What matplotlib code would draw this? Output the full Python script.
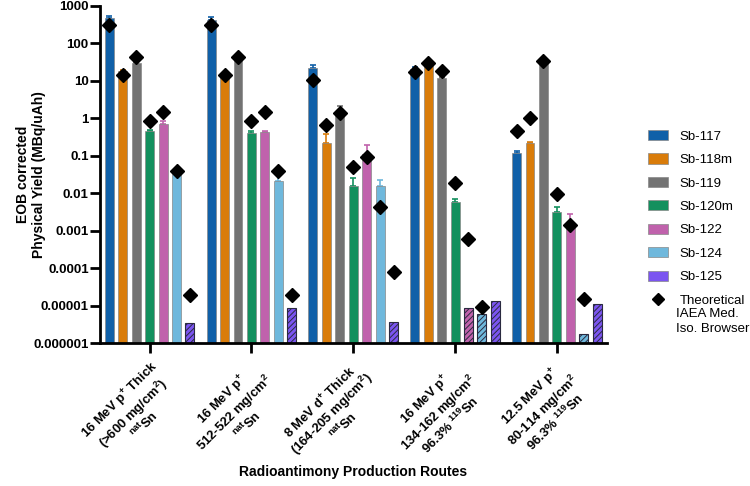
import numpy as np
import matplotlib
matplotlib.use('Agg')
import matplotlib.pyplot as plt
from matplotlib.patches import Patch
from matplotlib.lines import Line2D

plt.rcParams['font.family'] = 'Liberation Sans'
plt.rcParams['font.weight'] = 'bold'
plt.rcParams['mathtext.fontset'] = 'custom'
plt.rcParams['mathtext.rm'] = 'Liberation Sans:bold'
plt.rcParams['mathtext.bf'] = 'Liberation Sans:bold'
plt.rcParams['mathtext.default'] = 'bf'
plt.rcParams['hatch.linewidth'] = 0.7

nan = np.nan

routes = [
    "16 MeV p$^{+}$ Thick\n(>600 mg/cm$^{2}$)\n$^{nat}$Sn",
    "16 MeV p$^{+}$\n512-522 mg/cm$^{2}$\n$^{nat}$Sn",
    "8 MeV d$^{+}$ Thick\n(164-205 mg/cm$^{2}$)\n$^{nat}$Sn",
    "16 MeV p$^{+}$\n134-162 mg/cm$^{2}$\n96.3% $^{119}$Sn",
    "12.5 MeV p$^{+}$\n80-114 mg/cm$^{2}$\n96.3% $^{119}$Sn",
]
isotopes = ['Sb-117', 'Sb-118m', 'Sb-119', 'Sb-120m', 'Sb-122', 'Sb-124', 'Sb-125']
colors = ['#1060a8', '#d97c0a', '#737373', '#13905e', '#c062ac', '#6fb8dc', '#7b55f0']

# measured yields (MBq/uAh)
sb117 = [470, 430, 22, 21, 0.115]
sb118m = [18, 16, 0.22, 27, 0.22]
sb119 = [30, 38, 1.5, 12, 33]
sb120m = [0.46, 0.41, 0.016, 0.006, 0.0032]
sb122 = [0.72, 0.43, 0.11, 8.7e-6, 0.0016]
sb124 = [0.032, 0.021, 0.016, 6e-6, 1.7e-6]
sb125 = [3.5e-6, 8.5e-6, 3.6e-6, 1.3e-5, 1.1e-5]
yields = [sb117, sb118m, sb119, sb120m, sb122, sb124, sb125]

# top of error bars
err117 = [520, 500, 27, 24, 0.135]
err118m = [19, 17, 0.37, 28, 0.23]
err119 = [32, 41, 2.1, 13, 34]
err120m = [0.5, 0.45, 0.026, 0.0068, 0.0042]
err122 = [0.85, 0.46, 0.19, nan, 0.0028]
err124 = [0.034, 0.03, 0.022, nan, nan]
err125 = [nan, nan, nan, nan, nan]
err_tops = [err117, err118m, err119, err120m, err122, err124, err125]

# theoretical (IAEA Med. Iso. Browser)
th117 = [310, 310, 10.5, 17.5, 0.47]
th118m = [14.5, 14.5, 0.66, 29, 1.0]
th119 = [44, 44, 1.4, 18, 34]
th120m = [0.82, 0.82, 0.05, 0.019, 0.0096]
th122 = [1.5, 1.5, 0.09, 6e-4, 0.0014]
th124 = [0.038, 0.038, 0.0043, 9e-6, 1.5e-5]
th125 = [1.9e-5, 1.9e-5, 8e-5, nan, nan]
theory = [th117, th118m, th119, th120m, th122, th124, th125]

# below detection limit -> hatched
hatched = [
    [False] * 5, [False] * 5, [False] * 5, [False] * 5,
    [False, False, False, True, False],
    [False, False, False, True, True],
    [True] * 5,
]

fig = plt.figure(figsize=(7.5, 4.86), dpi=100)
ax = fig.add_axes([0.133, 0.294, 0.676, 0.694])

x = np.arange(len(routes))
step = 0.132
width = 0.088
bottom = 1e-6

for i, name in enumerate(isotopes):
    xs = x + (i - 3) * step
    vals = np.array(yields[i])
    for j in range(len(routes)):
        if hatched[i][j]:
            ax.bar(xs[j], vals[j] - bottom, width, bottom=bottom, color=colors[i],
                   edgecolor='#2a2a40', linewidth=0.8, hatch='//////', zorder=2)
        else:
            ax.bar(xs[j], vals[j] - bottom, width, bottom=bottom, color=colors[i],
                   edgecolor='#888888', linewidth=0.5, zorder=2)
    tops = np.array(err_tops[i])
    ok = ~np.isnan(tops)
    up = tops[ok] - vals[ok]
    ax.errorbar(xs[ok], vals[ok], yerr=[np.zeros_like(up), up], fmt='none',
                ecolor=colors[i], elinewidth=1.2, capsize=2.5, capthick=1.2, zorder=1)
    ax.plot(xs, theory[i], linestyle='none', marker='D', markersize=7,
            color='black', zorder=3)

ax.set_yscale('log')
ax.set_ylim(1e-6, 1000)
ax.set_xlim(-0.49, 4.49)
yt = [1e-6, 1e-5, 1e-4, 1e-3, 1e-2, 1e-1, 1, 10, 100, 1000]
ax.set_yticks(yt)
ax.set_yticklabels(['0.000001', '0.00001', '0.0001', '0.001', '0.01', '0.1',
                    '1', '10', '100', '1000'], fontsize=9.5, fontweight='bold')
ax.minorticks_off()
ax.set_xticks(x)
ax.set_xticklabels(routes, rotation=45, ha='right', va='top',
                   rotation_mode='anchor', fontsize=9.4, fontweight='bold')
for lbl in ax.get_xticklabels():
    lbl.set_multialignment('center')
    lbl.set_linespacing(1.0)

for s in ['top', 'right']:
    ax.spines[s].set_visible(False)
for s in ['left', 'bottom']:
    ax.spines[s].set_linewidth(2)
ax.tick_params(axis='y', width=2, length=7, pad=1)
ax.tick_params(axis='x', width=2, length=7, pad=4)

ax.set_ylabel('EOB corrected\nPhysical Yield (MBq/uAh)', fontsize=10,
              fontweight='bold')
ax.yaxis.set_label_coords(-0.106, 0.5)
ax.set_xlabel('Radioantimony Production Routes', fontsize=10, fontweight='bold')
ax.xaxis.set_label_coords(0.5, -0.36)

handles = [Patch(facecolor=c, edgecolor='#888888', linewidth=0.5) for c in colors]
handles.append(Line2D([], [], linestyle='none', marker='D', markersize=6, color='black'))
labels = isotopes + ['Theoretical']
leg = fig.legend(handles, labels, loc='upper left', bbox_to_anchor=(0.848, 0.757),
                 frameon=False, handlelength=1.5, handleheight=0.8,
                 labelspacing=0.82, handletextpad=0.9,
                 prop={'family': 'Liberation Sans', 'weight': 'normal', 'size': 9.5})
fig.text(0.901, 1 - 308 / 486, 'IAEA Med.\nIso. Browser', ha='left', va='top',
         fontsize=9.5, fontweight='normal', linespacing=1.3)

fig.savefig('out.png', dpi=100)
